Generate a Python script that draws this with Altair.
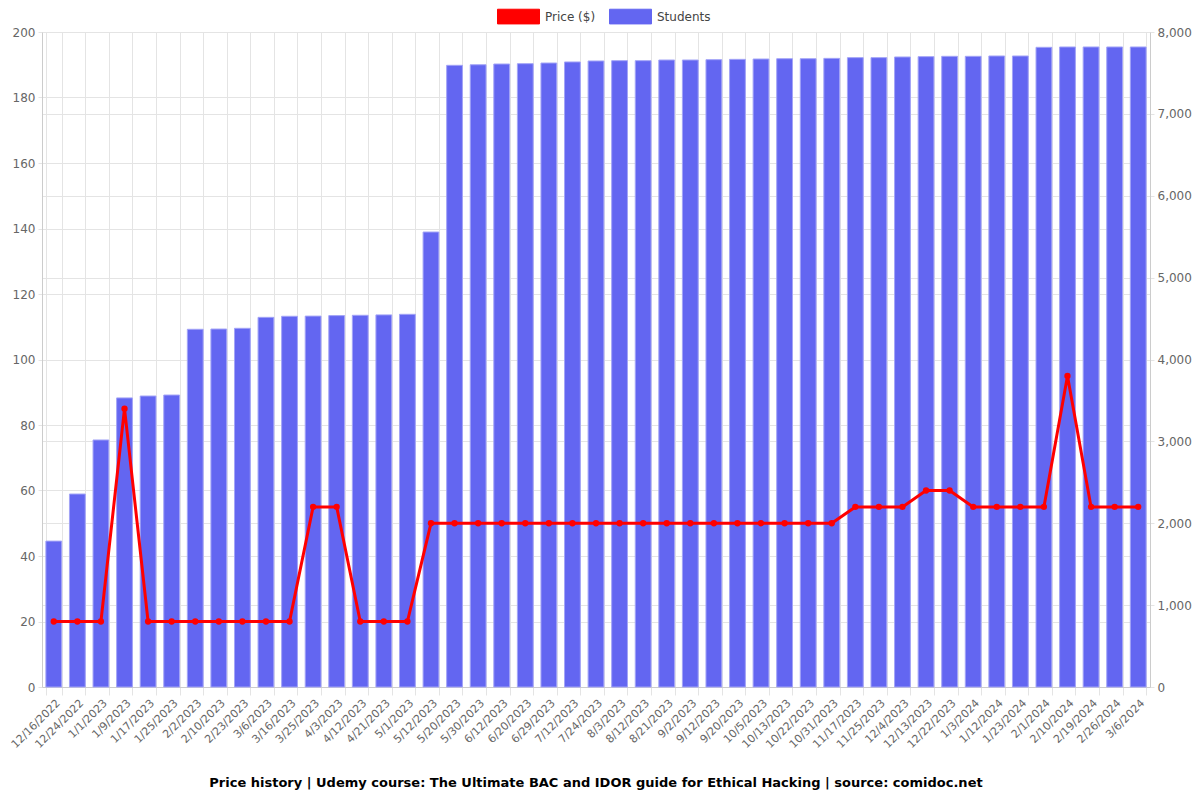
import altair as alt
import pandas as pd

dates = ["12/16/2022", "12/24/2022", "1/1/2023", "1/9/2023", "1/17/2023", "1/25/2023",
         "2/2/2023", "2/10/2023", "2/23/2023", "3/6/2023", "3/16/2023", "3/25/2023",
         "4/3/2023", "4/12/2023", "4/21/2023", "5/1/2023", "5/12/2023", "5/20/2023",
         "5/30/2023", "6/12/2023", "6/20/2023", "6/29/2023", "7/12/2023", "7/24/2023",
         "8/3/2023", "8/12/2023", "8/21/2023", "9/2/2023", "9/12/2023", "9/20/2023",
         "10/5/2023", "10/13/2023", "10/22/2023", "10/31/2023", "11/17/2023", "11/25/2023",
         "12/4/2023", "12/13/2023", "12/22/2023", "1/3/2024", "1/12/2024", "1/23/2024",
         "2/1/2024", "2/10/2024", "2/19/2024", "2/26/2024", "3/6/2024"]

students = [1782, 2357, 3017, 3531, 3554, 3566,
            4369, 4372, 4381, 4515, 4528, 4530,
            4536, 4540, 4545, 4552, 5557, 7593,
            7600, 7609, 7613, 7621, 7634, 7646,
            7650, 7650, 7658, 7658, 7662, 7666,
            7670, 7674, 7674, 7678, 7687, 7687,
            7695, 7699, 7703, 7703, 7707, 7707,
            7813, 7817, 7817, 7817, 7817]

prices = [19.99, 19.99, 19.99, 84.99, 19.99, 19.99,
          19.99, 19.99, 19.99, 19.99, 19.99, 54.99,
          54.99, 19.99, 19.99, 19.99, 49.99, 49.99,
          49.99, 49.99, 49.99, 49.99, 49.99, 49.99,
          49.99, 49.99, 49.99, 49.99, 49.99, 49.99,
          49.99, 49.99, 49.99, 49.99, 54.99, 54.99,
          54.99, 59.99, 59.99, 54.99, 54.99, 54.99,
          54.99, 94.99, 54.99, 54.99, 54.99]

series_names = ["Price ($)", "Students"]
series_colors = ["#ff0000", "#6366f1"]

df = pd.DataFrame({"date": dates, "students": students, "price": prices})

FONT = "DejaVu Sans"
GRID = "#e4e4e4"
LABEL = "#666666"

x_enc = alt.X(
    "date:N",
    sort=dates,
    scale=alt.Scale(paddingInner=0.33, paddingOuter=0.165),
    axis=alt.Axis(
        title=None, labelAngle=-45, tickBand="extent", grid=True, gridColor=GRID,
        labelColor=LABEL, labelFontSize=11, tickColor=GRID, tickSize=8,
        domainColor="#cccccc", labelPadding=2,
    ),
)

color_scale = alt.Scale(domain=series_names, range=series_colors)

bars = alt.Chart(df).transform_calculate(series="'Students'").mark_bar(
    stroke="#a3a4f7", strokeWidth=1
).encode(
    x=x_enc,
    y=alt.Y(
        "students:Q",
        scale=alt.Scale(domain=[0, 8000]),
        axis=alt.Axis(
            orient="right", title=None, format=",.0f", values=list(range(0, 8001, 1000)),
            grid=True, gridColor=GRID, labelColor=LABEL, labelFontSize=12,
            tickColor=GRID, tickSize=4, domainColor="#cccccc", labelPadding=3,
        ),
    ),
    color=alt.Color(
        "series:N", scale=color_scale,
        legend=alt.Legend(
            title=None, orient="none", direction="horizontal",
            legendX=455, legendY=-37,
            symbolType="M-1,-0.35H1V0.35H-1Z", symbolSize=1764,
            symbolStrokeWidth=1, labelFontSize=12, labelColor="#444444",
            columnPadding=11, labelOffset=5,
        ),
    ),
)

line = alt.Chart(df).transform_calculate(series="'Price ($)'").mark_line(
    strokeWidth=3, point=alt.OverlayMarkDef(filled=True, size=40)
).encode(
    x=x_enc,
    y=alt.Y(
        "price:Q",
        scale=alt.Scale(domain=[0, 200]),
        axis=alt.Axis(
            orient="left", title=None, values=list(range(0, 201, 20)),
            grid=True, gridColor=GRID, labelColor=LABEL, labelFontSize=12,
            tickColor=GRID, tickSize=4, domainColor="#cccccc", labelPadding=3,
        ),
    ),
    color=alt.Color("series:N", scale=color_scale),
)

chart = (
    alt.layer(bars, line)
    .resolve_scale(y="independent")
    .properties(
        width=1108,
        height=655,
        padding={"left": 0, "right": 0, "top": -13, "bottom": 0},
        title=alt.TitleParams(
            "Price history | Udemy course: The Ultimate BAC and IDOR guide for Ethical Hacking | source: comidoc.net",
            orient="bottom", anchor="middle", fontSize=13, fontWeight="bold",
            font=FONT, color="#000000", offset=27,
        ),
    )
    .configure(font=FONT)
    .configure_view(stroke=None)
)

chart.save("out.html", embed_options={"renderer": "svg", "actions": False})
